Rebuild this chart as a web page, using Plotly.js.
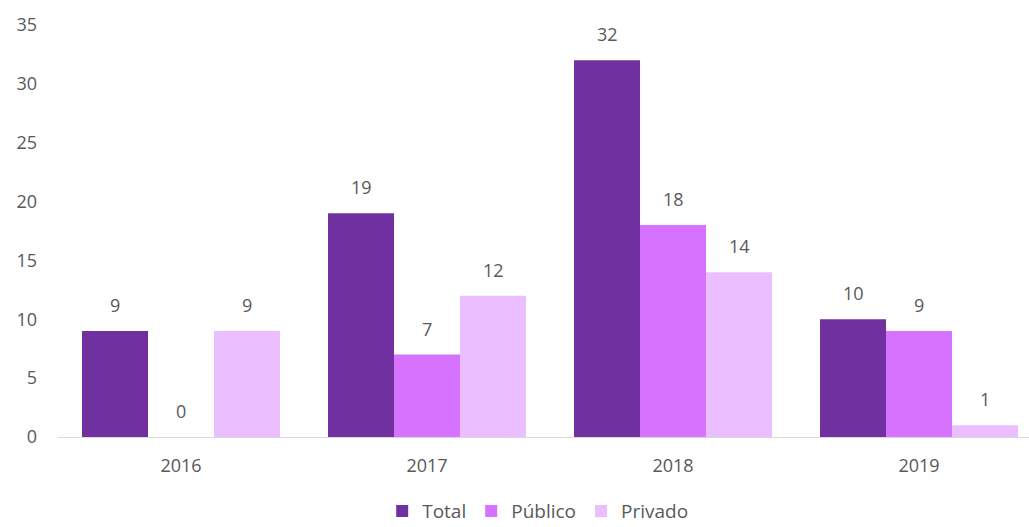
<!DOCTYPE html>
<html><head><meta charset="utf-8">
<script src="https://cdn.plot.ly/plotly-3.0.1.min.js"></script>
<style>html,body{margin:0;padding:0;background:#fff}#chart{width:1029px;height:527px}</style>
</head><body><div id="chart"></div>
<script>
const categories = ['2016', '2017', '2018', '2019'];
const seriesNames = ['Total', 'Público', 'Privado'];
const total = [9, 19, 32, 10];
const publico = [0, 7, 18, 9];
const privado = [9, 12, 14, 1];
const colors = ['#7030A0', '#D672FF', '#EBBFFF'];

const series = [total, publico, privado];
const fontFamily = 'Open Sans, Noto Sans, sans-serif';
const mkFont = (s) => ({family: fontFamily, size: s, color: '#595959'});

const traces = series.map((vals, i) => ({
  type: 'bar', name: seriesNames[i], x: categories, y: vals,
  marker: {color: colors[i], line: {width: 0}},
  hoverinfo: 'none'
}));

const barPx = 66;
const annotations = [];
series.forEach((vals, i) => {
  vals.forEach((v, j) => {
    annotations.push({
      x: j, y: v, xref: 'x', yref: 'y', text: String(v),
      showarrow: false, yanchor: 'bottom', yshift: 12, xshift: (i - 1) * barPx,
      font: mkFont(18)
    });
  });
});

const layout = {
  width: 1029, height: 527,
  margin: {l: 58, r: 0, t: 25, b: 90, autoexpand: false},
  paper_bgcolor: '#fff', plot_bgcolor: '#fff',
  barmode: 'group', bargap: 0.195, bargroupgap: 0,
  font: mkFont(18),
  showlegend: true,
  legend: {orientation: 'h', x: 0.494, xanchor: 'center', yref: 'container', y: 0.03, yanchor: 'middle',
           font: mkFont(19), traceorder: 'normal'},
  xaxis: {type: 'category', range: [-0.5, 3.447], showline: true, linecolor: '#D9D9D9', linewidth: 1,
          ticks: '', showgrid: false, zeroline: false, tickfont: mkFont(18), ticklabelstandoff: 12},
  yaxis: {range: [0, 35], dtick: 5, showgrid: false, zeroline: false, showline: false, ticks: '',
          tickfont: mkFont(18), ticklabelstandoff: 20},
  annotations: annotations
};
Plotly.newPlot('chart', traces, layout, {displayModeBar: false, staticPlot: true});
</script></body></html>
